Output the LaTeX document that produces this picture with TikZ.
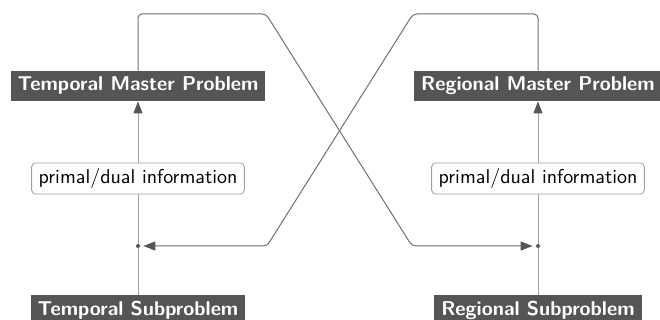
\documentclass[tikz,border=0pt]{standalone}
\usepackage{tikz}
\usetikzlibrary{arrows.meta}
\definecolor{boxgray}{HTML}{555555}
\definecolor{flowgray}{HTML}{707070}
\definecolor{stemgray}{HTML}{A0A0A0}

\begin{document}
\begin{tikzpicture}[
    x=0.5pt, y=-0.5pt,
    masterbox/.style={fill=boxgray, text=white, font=\sffamily\bfseries, inner xsep=3.5pt, inner ysep=0pt, minimum height=15pt},
    infobox/.style={draw=stemgray, fill=white, rounded corners=2pt, font=\sffamily, inner xsep=3.5pt, inner ysep=0pt, minimum height=15.5pt},
    junction/.style={circle, fill=boxgray, inner sep=0pt, minimum size=2pt},
    stem/.style={draw=stemgray, line width=0.5pt},
    flow/.style={draw=flowgray, line width=0.5pt, rounded corners=2pt},
    tip/.style={-{Triangle[length=6pt, width=4.5pt, color=boxgray]}}
]
\useasboundingbox (0,0) rectangle (660,320);
% problem boxes
\node[masterbox] (tmp) at (138,86) {Temporal Master Problem};
\node[masterbox] (rmp) at (538,86) {Regional Master Problem};
\node[masterbox] (tsp) at (138,310) {Temporal Subproblem};
\node[masterbox] (rsp) at (538,310) {Regional Subproblem};
% stems from sub to master
\draw[stem, tip] (tsp.north) -- (tmp.south);
\draw[stem, tip] (rsp.north) -- (rmp.south);
\node[infobox] (tinfo) at (138,178.5) {primal/dual information};
\node[infobox] (rinfo) at (538,178.5) {primal/dual information};
\node[junction] (tj) at (138,246) {};
\node[junction] (rj) at (538,246) {};
% crossing exchange
\draw[flow, tip, shorten >=1.5pt] (tmp.north) |- (266,14) -- (412,246) -- (rj);
\draw[flow, tip, shorten >=1.5pt] (rmp.north) |- (413,14) -- (267,246) -- (tj);
\end{tikzpicture}
\end{document}
